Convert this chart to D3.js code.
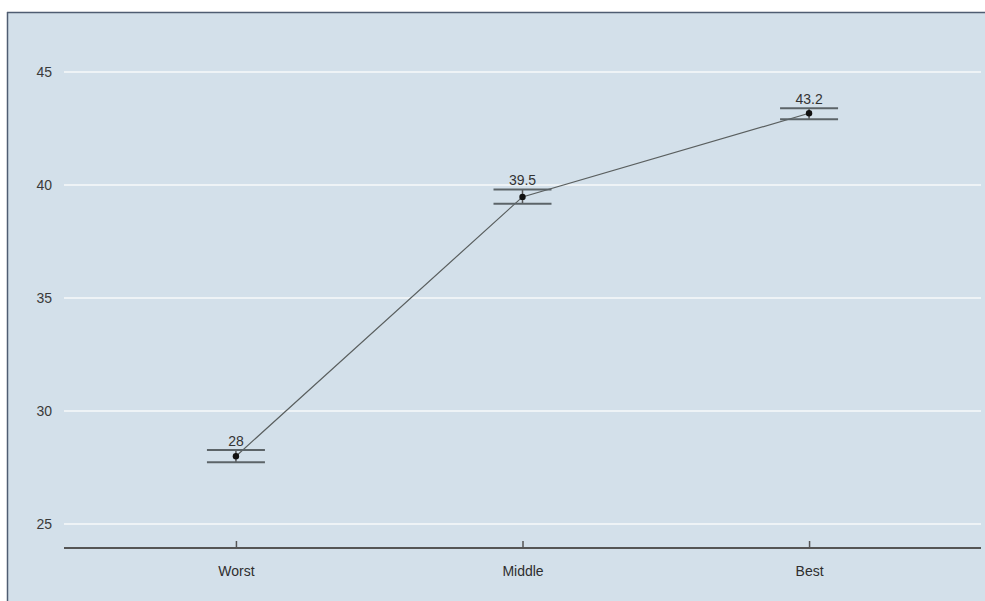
<!DOCTYPE html>
<html>
<head>
<meta charset="utf-8">
<script src="https://cdn.jsdelivr.net/npm/d3@7"></script>
<style>
body{margin:0;background:#fff;}
svg{display:block;font-family:"Liberation Sans",Arial,sans-serif;}
</style>
</head>
<body>
<svg id="canvas" width="985" height="601"></svg>
<script>
let groups=["Worst","Middle","Best"];
let means=[28.0,39.47,43.17];
let lows=[27.73,39.17,42.91];
let highs=[28.27,39.8,43.39];
let labels=["28","39.5","43.2"];
let yTicks=[25,30,35,40,45];

let w=985,h=601;
let canvas=d3.select("#canvas");

// panel
canvas.append("rect").attr("x",7).attr("y",12).attr("width",w-7).attr("height",h-12).attr("fill","#d3e0ea");
canvas.append("line").attr("x1",7).attr("x2",w).attr("y1",12.5).attr("y2",12.5).attr("stroke","#4f5d72").attr("stroke-width",1.5);
canvas.append("line").attr("x1",7.5).attr("x2",7.5).attr("y1",12).attr("y2",h).attr("stroke","#4f5d72").attr("stroke-width",1.5);

let xScale=d3.scalePoint().domain(groups).range([64,981]).padding(0.6);
let yScale=d3.scaleLinear().domain([23.94,47.65]).range([548,12]);

// gridlines
canvas.append("g").selectAll("line").data(yTicks).enter().append("line")
  .attr("x1",64).attr("x2",981).attr("y1",d=>yScale(d)).attr("y2",d=>yScale(d))
  .attr("stroke","#eef3f6").attr("stroke-width",2);

// y axis labels
let yAxis=d3.axisLeft(yScale).tickValues(yTicks).tickSize(0).tickPadding(0);
let yg=canvas.append("g").attr("transform","translate(52,0)").call(yAxis);
yg.select(".domain").remove();
yg.selectAll("text").style("font-size","14px").attr("fill","#3a3a3a");

// x axis
let xAxis=d3.axisBottom(xScale).tickSizeInner(-7).tickSizeOuter(0).tickPadding(18);
let xg=canvas.append("g").attr("transform","translate(0,548)").call(xAxis);
xg.select(".domain").attr("d","M64,0H981").attr("stroke","#555").attr("stroke-width",2);
xg.selectAll(".tick line").attr("stroke","#555").attr("stroke-width",1.5);
xg.selectAll("text").style("font-size","14px").attr("fill","#2e2e2e");

let data=groups.map((g,i)=>({g:g,m:means[i],lo:lows[i],hi:highs[i],lab:labels[i]}));

// connecting line
canvas.append("path").datum(data)
  .attr("d",d3.line().x(d=>xScale(d.g)).y(d=>yScale(d.m)))
  .attr("fill","none").attr("stroke","#5a5f5f").attr("stroke-width",1.2);

// error bars
let eb=canvas.append("g").selectAll("g").data(data).enter().append("g");
eb.append("line").attr("x1",d=>xScale(d.g)).attr("x2",d=>xScale(d.g))
  .attr("y1",d=>yScale(d.lo)).attr("y2",d=>yScale(d.hi)).attr("stroke","#555").attr("stroke-width",1.5);
eb.append("line").attr("x1",d=>xScale(d.g)-29).attr("x2",d=>xScale(d.g)+29)
  .attr("y1",d=>yScale(d.hi)).attr("y2",d=>yScale(d.hi)).attr("stroke","#5c6468").attr("stroke-width",2);
eb.append("line").attr("x1",d=>xScale(d.g)-29).attr("x2",d=>xScale(d.g)+29)
  .attr("y1",d=>yScale(d.lo)).attr("y2",d=>yScale(d.lo)).attr("stroke","#5c6468").attr("stroke-width",2);
eb.append("circle").attr("cx",d=>xScale(d.g)).attr("cy",d=>yScale(d.m)).attr("r",3.2).attr("fill","#111");
eb.append("text").attr("x",d=>xScale(d.g)).attr("y",d=>yScale(d.hi)-4)
  .attr("text-anchor","middle").style("font-size","14px").attr("fill","#333").text(d=>d.lab);
</script>
</body>
</html>
